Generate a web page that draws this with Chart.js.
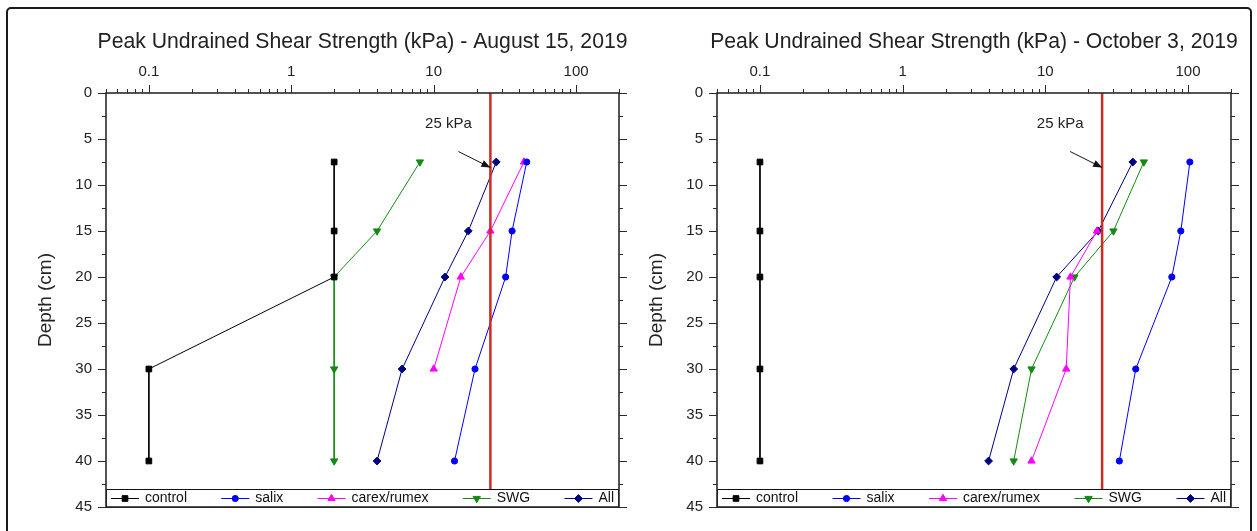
<!DOCTYPE html>
<html>
<head>
<meta charset="utf-8">
<script src="https://cdn.jsdelivr.net/npm/chart.js@4.4.1/dist/chart.umd.min.js"></script>
<style>
  body { margin: 0; background: #fff; width: 1257px; height: 531px; overflow: hidden; position: relative; }
  #frame { position: absolute; left: 6px; top: 7px; width: 1242px; height: 540px; border: 2px solid #1a1a1a; border-radius: 5px; }
  .box { position: absolute; top: 0; height: 531px; }
</style>
</head>
<body>
<div id="frame"></div>
<div class="box" style="left:0;width:645px"><canvas id="aug"></canvas></div>
<div class="box" style="left:611px;width:646px"><canvas id="oct"></canvas></div>
<script>
// depths (cm) where shear vane readings were taken
const depths = [7.5, 15, 20, 30, 40];
const seriesNames = ["control", "salix", "carex/rumex", "SWG", "All"];

// August 15, 2019 (kPa)
const augControl = [2, 2, 2, 0.1, 0.1];
const augSalix = [45, 35.5, 32, 19.5, 14];
const augCarex = [43, 25, 15.5, 10, null];
const augSWG = [8, 4, 2, 2, 2];
const augAll = [27.5, 17.5, 12, 6, 4];

// October 3, 2019 (kPa)
const octControl = [0.1, 0.1, 0.1, 0.1, 0.1];
const octSalix = [103, 89, 77, 43, 33];
const octCarex = [null, 23, 15, 14, 8];
const octSWG = [49, 30, 16, 8, 6];
const octAll = [41, 23.5, 12, 6, 4];

const xTickLabels = [0.1, 1, 10, 100];
const refLine = 25;
const refLabel = "25 kPa";

const FONT = '"Liberation Sans", Arial, sans-serif';
const colors = ["#000000", "#0000ff", "#ff00ff", "#138a13", "#000080"];
const pStyles = ["rect", "circle", "triangle", "triangle", "rectRot"];
const pRadius = [4, 3.1, 4.2, 4.2, 3.9];
const pRotation = [0, 0, 0, 180, 0];

function points(vals) {
  return depths.map((d, i) => ({ x: vals[i], y: d })).filter(p => p.x !== null);
}

// title, ticks, frame, inner legend and the 25 kPa note
const extras = {
  id: "extras",
  afterDraw(chart) {
    const ctx = chart.ctx;
    const a = chart.chartArea;
    const xs = chart.scales.x, ys = chart.scales.y;
    ctx.save();

    // axis title above the top axis (wider than the plot, so not squeezed)
    ctx.font = "21.2px " + FONT;
    ctx.fillStyle = "#222";
    ctx.textAlign = "center";
    ctx.textBaseline = "middle";
    ctx.fillText(chart.options.plugins.extras.title, (a.left + a.right) / 2, 42);

    // legend box inside the bottom of the plot
    const lh = 18;
    const top = a.bottom - lh;
    ctx.fillStyle = "#fff";
    ctx.fillRect(a.left, top, a.right - a.left, lh);
    ctx.strokeStyle = "#111";
    ctx.lineWidth = 1;
    ctx.strokeRect(a.left + 0.5, top + 0.5, a.right - a.left - 1, lh);
    ctx.font = "14px " + FONT;
    const sample = 28, gap = 6;
    const items = chart.data.datasets.slice(0, 5);
    const widths = items.map(d => sample + gap + ctx.measureText(d.label).width);
    const avail = a.right - a.left - 10;
    const space = (avail - widths.reduce((s, w) => s + w, 0)) / (items.length - 1);
    let x = a.left + 5;
    const cy = top + lh / 2 + 0.5;
    items.forEach((d, i) => {
      ctx.strokeStyle = d.borderColor;
      ctx.fillStyle = d.borderColor;
      ctx.lineWidth = 1;
      ctx.beginPath();
      ctx.moveTo(x, cy);
      ctx.lineTo(x + sample, cy);
      ctx.stroke();
      Chart.helpers.drawPoint(ctx, {
        pointStyle: d.pointStyle, radius: d.pointRadius, rotation: d.pointRotation || 0, borderWidth: 1
      }, x + sample / 2, cy);
      ctx.fillStyle = "#111";
      ctx.textAlign = "left";
      ctx.fillText(d.label, x + sample + gap, cy);
      x += widths[i] + space;
    });

    // frame
    ctx.strokeStyle = "#2a2a2a";
    ctx.lineWidth = 1.6;
    ctx.strokeRect(a.left, a.top, a.right - a.left, a.bottom - a.top);

    // top log ticks
    ctx.lineWidth = 1;
    ctx.beginPath();
    for (let e = -2; e <= 2; e++) {
      for (let m = 1; m <= 9; m++) {
        const v = m * Math.pow(10, e);
        if (v < xs.min * 0.999 || v > xs.max * 1.001) continue;
        const px = Math.round(xs.getPixelForValue(v)) + 0.5;
        const len = m === 1 ? 8 : 4;
        ctx.moveTo(px, a.top);
        ctx.lineTo(px, a.top - len);
      }
    }
    // left and right depth ticks
    for (let d = 0; d <= 45; d += 2.5) {
      const py = Math.round(ys.getPixelForValue(d)) + 0.5;
      const len = d % 5 === 0 ? 8 : 4;
      ctx.moveTo(a.left - len, py);
      ctx.lineTo(a.left, py);
      ctx.moveTo(a.right, py);
      ctx.lineTo(a.right + len, py);
    }
    ctx.stroke();

    // 25 kPa note with arrow
    const tx = xs.getPixelForValue(refLine);
    const ty = ys.getPixelForValue(8.1);
    const sx = tx - 32, sy = ty - 16;
    ctx.strokeStyle = "#111";
    ctx.fillStyle = "#111";
    ctx.lineWidth = 1;
    ctx.beginPath();
    ctx.moveTo(sx, sy);
    ctx.lineTo(tx, ty);
    ctx.stroke();
    const ang = Math.atan2(ty - sy, tx - sx);
    ctx.beginPath();
    ctx.moveTo(tx, ty);
    ctx.lineTo(tx - 9 * Math.cos(ang) + 3.5 * Math.sin(ang), ty - 9 * Math.sin(ang) - 3.5 * Math.cos(ang));
    ctx.lineTo(tx - 9 * Math.cos(ang) - 3.5 * Math.sin(ang), ty - 9 * Math.sin(ang) + 3.5 * Math.cos(ang));
    ctx.closePath();
    ctx.fill();
    ctx.font = "15px " + FONT;
    ctx.textAlign = "center";
    ctx.fillStyle = "#222";
    ctx.fillText(refLabel, tx - 42, ys.getPixelForValue(3.3));
    ctx.restore();
  }
};

function makeChart(id, title, series, rightPad) {
  const datasets = series.map((vals, i) => ({
    label: seriesNames[i],
    data: points(vals),
    showLine: true,
    borderColor: colors[i],
    backgroundColor: colors[i],
    borderWidth: 1,
    pointStyle: pStyles[i],
    pointRadius: pRadius[i],
    pointRotation: pRotation[i],
    pointBorderWidth: 1
  }));
  datasets.push({
    label: "ref",
    data: [{ x: refLine, y: 0 }, { x: refLine, y: 45 }],
    showLine: true,
    borderColor: "#d02a22",
    borderWidth: 2.5,
    pointRadius: 0,
    order: -1
  });
  return new Chart(document.getElementById(id), {
    type: "scatter",
    data: { datasets },
    options: {
      responsive: true,
      maintainAspectRatio: false,
      animation: false,
      layout: { padding: { left: 0, right: rightPad, top: 0, bottom: 24 } },
      plugins: { legend: { display: false }, tooltip: { enabled: false }, extras: { title } },
      scales: {
        x: {
          type: "logarithmic",
          position: "top",
          min: 0.05,
          max: 200,
          grid: { display: false, drawTicks: false },
          border: { display: false },
          afterBuildTicks: s => { s.ticks = xTickLabels.map(v => ({ value: v })); },
          afterFit: s => { s.height = 93; },
          ticks: {
            autoSkip: false, maxRotation: 0, padding: 12,
            color: "#222", font: { family: FONT, size: 15 },
            callback: v => String(v)
          },
          title: { display: false }
        },
        y: {
          type: "linear",
          reverse: true,
          min: 0,
          max: 45,
          grid: { display: false, drawTicks: false },
          border: { display: false },
          afterFit: s => { s.width = 106; },
          ticks: { stepSize: 5, padding: 14, color: "#222", font: { family: FONT, size: 15 } },
          title: {
            display: true, text: "Depth (cm)", color: "#222",
            font: { family: FONT, size: 19 }, padding: { top: 34, bottom: 0 }
          }
        }
      }
    },
    plugins: [extras]
  });
}

makeChart("aug", "Peak Undrained Shear Strength (kPa) - August 15, 2019",
  [augControl, augSalix, augCarex, augSWG, augAll], 26);
makeChart("oct", "Peak Undrained Shear Strength (kPa) - October 3, 2019",
  [octControl, octSalix, octCarex, octSWG, octAll], 26);
</script>
</body>
</html>
